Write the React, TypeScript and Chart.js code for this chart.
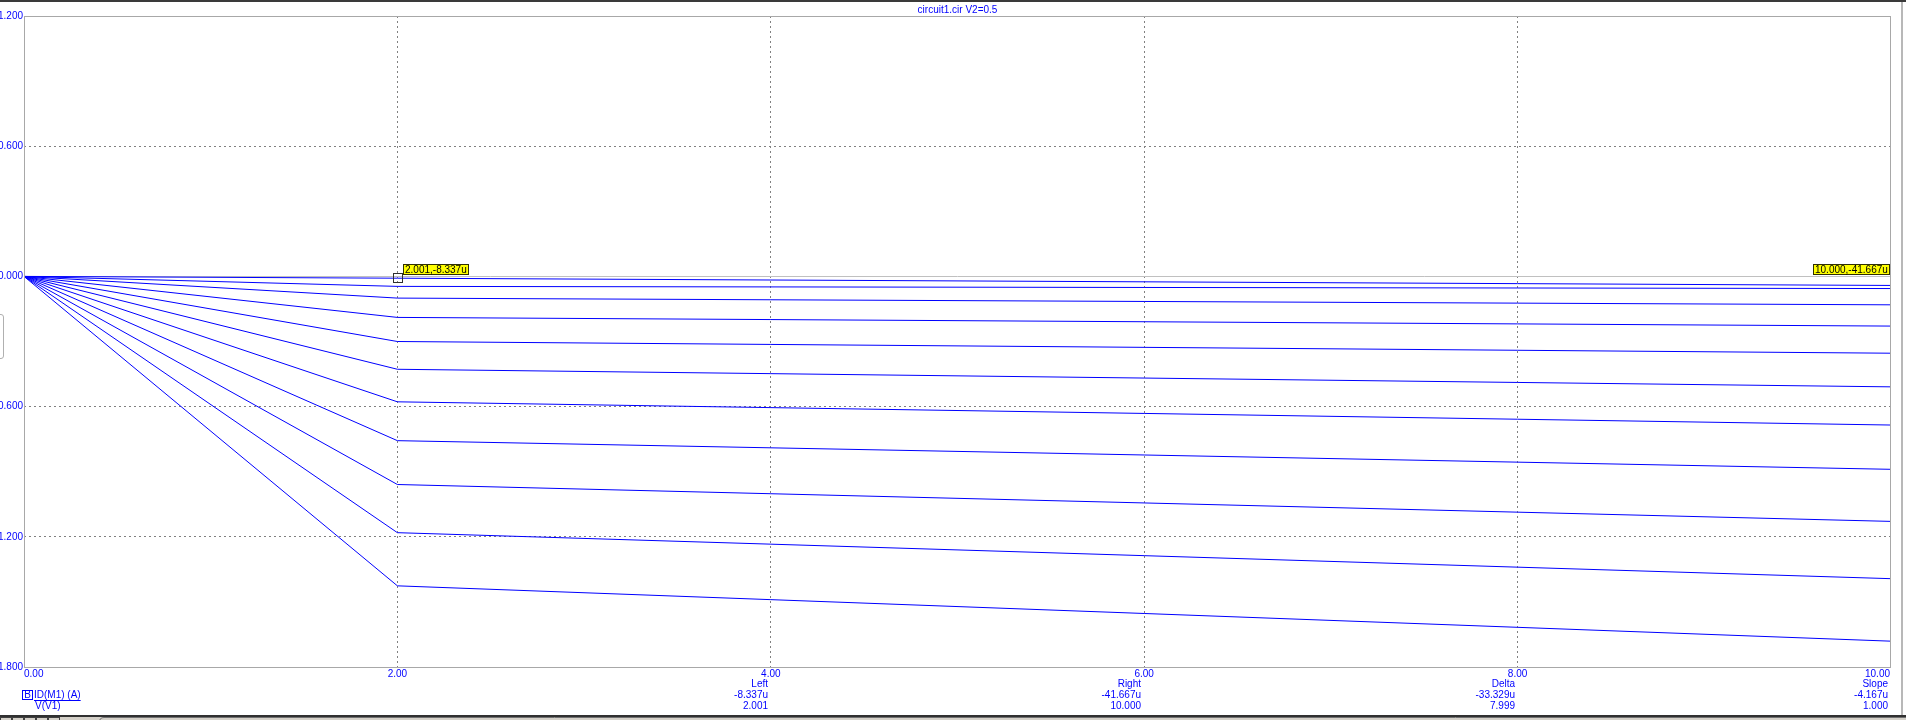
import React, { useEffect, useRef } from "react";
import { Chart, registerables } from "chart.js";

Chart.register(...registerables);

// ---- data (ID(M1) in mA vs V(V1) in V) ----
const chartTitle = "circuit1.cir V2=0.5";
const sweepV1 = [0, 2, 10];
const idAtV0 = [0, 0, 0, 0, 0, 0, 0, 0, 0, 0, 0];
const idAtV2 = [-0.0083, -0.046, -0.1, -0.189, -0.3, -0.428, -0.578, -0.757, -0.959, -1.181, -1.426];
const idAtV10 = [-0.0417, -0.056, -0.131, -0.229, -0.354, -0.509, -0.685, -0.889, -1.129, -1.393, -1.681];

const xTickValues = [0, 2, 4, 6, 8, 10];
const xTickLabels = ["0.00", "2.00", "4.00", "6.00", "8.00", "10.00"];
const yTickValues = [1.2, 0.6, 0, -0.6, -1.2, -1.8];
const yTickLabels = ["1.200", "0.600", "0.000", "-0.600", "-1.200", "-1.800"];

const cursorX = [2.001, 10.0];
const cursorY = [-0.008337, -0.041667];
const cursorLabels = ["2.001,-8.337u", "10.000,-41.667u"];

const readoutAt = [4, 6, 8, 10];
const readoutNames = ["Left", "Right", "Delta", "Slope"];
const readoutYs = ["-8.337u", "-41.667u", "-33.329u", "-4.167u"];
const readoutXs = ["2.001", "10.000", "7.999", "1.000"];

const legendY = "ID(M1) (A)";
const legendX = "V(V1)";

const FAMILY = '"Liberation Sans", Arial, sans-serif';
const FONT = "10px " + FAMILY;
const BLUE = "#0000ff";
const TEXT_BLUE = "#0000ff";

const deco = {
  id: "deco",
  beforeDraw(chart: any) {
    const { ctx, width, height } = chart;
    ctx.save();
    ctx.fillStyle = "#ffffff";
    ctx.fillRect(0, 0, width, height);
    // window frame bits
    ctx.fillStyle = "#3a3a3a";
    ctx.fillRect(0, 0, width, 2);
    ctx.fillStyle = "#b8b8b8";
    ctx.fillRect(1901, 2, 2, 713);
    // small side widget on the left
    ctx.strokeStyle = "#b0b0b0";
    ctx.lineWidth = 1;
    ctx.beginPath();
    ctx.moveTo(-2, 314.5);
    ctx.lineTo(1, 314.5);
    ctx.quadraticCurveTo(3.5, 314.5, 3.5, 317);
    ctx.lineTo(3.5, 356);
    ctx.quadraticCurveTo(3.5, 358.5, 1, 358.5);
    ctx.lineTo(-2, 358.5);
    ctx.stroke();
    // bottom toolbar
    ctx.fillStyle = "#303030";
    ctx.fillRect(0, 715, width, 2);
    ctx.fillStyle = "#d4d0c8";
    ctx.fillRect(0, 717, width, 3);
    ctx.strokeStyle = "#404040";
    for (let i = 0; i < 5; i++) {
      ctx.strokeRect(0.5 + i * 12, 717.5, 11, 6);
    }
    ctx.strokeStyle = "#707070";
    ctx.beginPath();
    ctx.moveTo(99.5, 722);
    ctx.quadraticCurveTo(99.5, 717.5, 104, 717.5);
    ctx.lineTo(width, 717.5);
    ctx.stroke();
    ctx.restore();
  },
  beforeDatasetsDraw(chart: any) {
    const { ctx, chartArea } = chart;
    const y0 = Math.round(chart.scales.y.getPixelForValue(0)) + 0.5;
    ctx.save();
    ctx.strokeStyle = "#c0c0c0";
    ctx.lineWidth = 1;
    ctx.beginPath();
    ctx.moveTo(chartArea.left, y0);
    ctx.lineTo(chartArea.right, y0);
    ctx.stroke();
    ctx.restore();
  },
  afterDraw(chart: any) {
    const { ctx, chartArea } = chart;
    const xs = chart.scales.x;
    const ys = chart.scales.y;
    ctx.save();
    // plot border
    ctx.strokeStyle = "#a8a8a8";
    ctx.lineWidth = 1;
    ctx.strokeRect(chartArea.left + 0.5, chartArea.top + 0.5, chartArea.right - chartArea.left - 1, chartArea.bottom - chartArea.top);

    ctx.font = FONT;
    ctx.textBaseline = "middle";
    ctx.fillStyle = TEXT_BLUE;

    // title
    ctx.textAlign = "center";
    ctx.fillText(chartTitle, (chartArea.left + chartArea.right) / 2, 10);

    // x tick labels
    xTickValues.forEach((v, i) => {
      const px = xs.getPixelForValue(v);
      if (i === 0) {
        ctx.textAlign = "left";
        ctx.fillText(xTickLabels[i], px, 674);
      } else if (i === xTickValues.length - 1) {
        ctx.textAlign = "right";
        ctx.fillText(xTickLabels[i], px - 1, 674);
      } else {
        ctx.textAlign = "center";
        ctx.fillText(xTickLabels[i], px, 674);
      }
    });

    // cursor readouts
    ctx.textAlign = "right";
    readoutAt.forEach((v, i) => {
      const px = Math.round(xs.getPixelForValue(v)) - 3;
      ctx.fillText(readoutNames[i], px, 684.5);
      ctx.fillText(readoutYs[i], px, 695.5);
      ctx.fillText(readoutXs[i], px, 706);
    });

    // legend
    ctx.strokeStyle = BLUE;
    ctx.strokeRect(22.5, 690.5, 10, 9);
    ctx.textAlign = "center";
    ctx.fillText("B", 27.5, 695.5);
    ctx.textAlign = "left";
    ctx.fillText(legendY, 34, 695);
    const lw = ctx.measureText(legendY).width;
    ctx.beginPath();
    ctx.moveTo(34, 700.5);
    ctx.lineTo(34 + lw, 700.5);
    ctx.stroke();
    ctx.fillText(legendX, 35, 706.5);

    // cursors
    const zeroPx = ys.getPixelForValue(0);
    cursorX.forEach((cx, i) => {
      const px = xs.getPixelForValue(cx);
      const py = ys.getPixelForValue(cursorY[i]);
      if (px < chartArea.right - 2) {
        ctx.strokeStyle = "#303030";
        ctx.strokeRect(Math.round(px) - 4.5, Math.round(py) - 4.5, 9, 9);
      }
      const tw = ctx.measureText(cursorLabels[i]).width;
      const bw = Math.ceil(tw) + 4;
      let left = Math.round(px) + 5;
      if (left + bw > chartArea.right - 1) left = chartArea.right - 1 - bw;
      const top = Math.round(zeroPx - 12);
      ctx.fillStyle = "#ffff00";
      ctx.fillRect(left, top, bw, 11);
      ctx.strokeStyle = "#303000";
      ctx.strokeRect(left + 0.5, top + 0.5, bw - 1, 10);
      ctx.fillStyle = "#000000";
      ctx.textAlign = "left";
      ctx.fillText(cursorLabels[i], left + 2, top + 6);
    });
    ctx.restore();
  },
};

export default function App() {
  const ref = useRef<HTMLCanvasElement | null>(null);
  useEffect(() => {
    if (!ref.current) return;
    const datasets = idAtV2.map((_, i) => ({
      label: "ID(M1) #" + (i + 1),
      data: sweepV1.map((x, k) => ({ x, y: [idAtV0, idAtV2, idAtV10][k][i] })),
      borderColor: BLUE,
      borderWidth: 1,
      pointRadius: 0,
      fill: false,
      tension: 0,
    }));
    const chart = new Chart(ref.current, {
      type: "line",
      data: { datasets },
      options: {
        responsive: false,
        animation: false,
        devicePixelRatio: 1,
        layout: { padding: { top: 16, left: 0, right: 15, bottom: 53 } },
        plugins: { legend: { display: false }, tooltip: { enabled: false }, title: { display: false } },
        scales: {
          x: {
            type: "linear",
            min: 0,
            max: 10,
            ticks: { display: false, stepSize: 2 },
            grid: {
              drawTicks: false,
              lineWidth: 1,
              color: (c: any) => (c.tick && (c.tick.value <= 0 || c.tick.value >= 10) ? "rgba(0,0,0,0)" : "#808080"),
            },
            border: { display: false, dash: [2, 3] },
            afterFit: (s: any) => {
              s.height = 0;
            },
          },
          y: {
            type: "linear",
            min: -1.8,
            max: 1.2,
            ticks: {
              stepSize: 0.6,
              color: TEXT_BLUE,
              padding: 1,
              font: { family: FAMILY, size: 10 },
              callback: (v: any) => {
                const idx = yTickValues.findIndex((t) => Math.abs(t - Number(v)) < 1e-6);
                return idx >= 0 ? yTickLabels[idx] : "";
              },
            },
            grid: {
              drawTicks: false,
              lineWidth: 1,
              color: (c: any) =>
                c.tick && (Math.abs(c.tick.value) < 1e-6 || c.tick.value >= 1.2 - 1e-6 || c.tick.value <= -1.8 + 1e-6)
                  ? "rgba(0,0,0,0)"
                  : "#808080",
            },
            border: { display: false, dash: [2, 3] },
            afterFit: (s: any) => {
              s.width = 24;
            },
          },
        },
      },
      plugins: [deco],
    } as any);
    return () => chart.destroy();
  }, []);
  return (
    <div style={{ position: "absolute", left: 0, top: 0, width: 1906, height: 720 }}>
      <canvas ref={ref} width={1906} height={720} style={{ display: "block", width: 1906, height: 720 }} />
    </div>
  );
}
